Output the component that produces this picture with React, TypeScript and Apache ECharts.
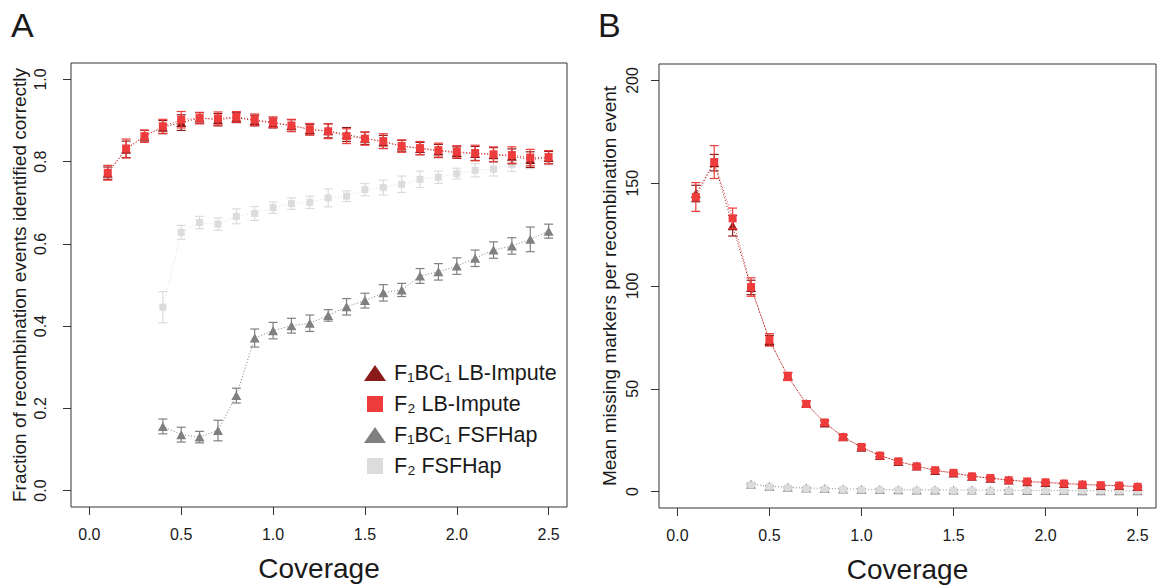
import React, { useEffect, useRef } from "react";
import * as echarts from "echarts";

// ---------- data ----------
const coverage = [0.1, 0.2, 0.3, 0.4, 0.5, 0.6, 0.7, 0.8, 0.9, 1.0, 1.1, 1.2, 1.3, 1.4, 1.5, 1.6, 1.7, 1.8, 1.9, 2.0, 2.1, 2.2, 2.3, 2.4, 2.5];
const coverageFS = [0.4, 0.5, 0.6, 0.7, 0.8, 0.9, 1.0, 1.1, 1.2, 1.3, 1.4, 1.5, 1.6, 1.7, 1.8, 1.9, 2.0, 2.1, 2.2, 2.3, 2.4, 2.5];

const xTicks = [0, 0.5, 1.0, 1.5, 2.0, 2.5];
const aYTicks = [0, 0.2, 0.4, 0.6, 0.8, 1.0];
const bYTicks = [0, 50, 100, 150, 200];

// Panel A: fraction of recombination events identified correctly
const aF1LB = [0.772, 0.830, 0.862, 0.884, 0.895, 0.906, 0.902, 0.907, 0.900, 0.894, 0.888, 0.878, 0.875, 0.866, 0.857, 0.848, 0.838, 0.832, 0.826, 0.822, 0.820, 0.817, 0.813, 0.805, 0.810];
const aF1LBErr = [0.015, 0.020, 0.014, 0.016, 0.019, 0.013, 0.015, 0.012, 0.013, 0.012, 0.014, 0.013, 0.017, 0.017, 0.015, 0.016, 0.014, 0.015, 0.016, 0.014, 0.017, 0.017, 0.018, 0.019, 0.015];
const aF2LB = [0.773, 0.832, 0.862, 0.886, 0.902, 0.906, 0.905, 0.909, 0.902, 0.896, 0.888, 0.879, 0.874, 0.862, 0.856, 0.850, 0.838, 0.833, 0.828, 0.824, 0.821, 0.818, 0.816, 0.810, 0.811];
const aF2LBErr = [0.018, 0.023, 0.015, 0.017, 0.020, 0.014, 0.016, 0.013, 0.014, 0.013, 0.015, 0.014, 0.018, 0.018, 0.016, 0.018, 0.015, 0.016, 0.017, 0.015, 0.019, 0.018, 0.020, 0.020, 0.016];
const aF1FS = [0.156, 0.136, 0.130, 0.146, 0.231, 0.371, 0.389, 0.401, 0.407, 0.426, 0.447, 0.462, 0.481, 0.488, 0.522, 0.532, 0.546, 0.565, 0.585, 0.595, 0.611, 0.631];
const aF1FSErr = [0.018, 0.018, 0.014, 0.025, 0.018, 0.022, 0.020, 0.018, 0.020, 0.014, 0.020, 0.018, 0.020, 0.016, 0.018, 0.020, 0.020, 0.020, 0.020, 0.020, 0.030, 0.017];
const aF2FS = [0.446, 0.628, 0.652, 0.648, 0.667, 0.674, 0.688, 0.698, 0.701, 0.712, 0.716, 0.732, 0.737, 0.745, 0.757, 0.762, 0.771, 0.779, 0.782, 0.793, 0.798, 0.806];
const aF2FSErr = [0.038, 0.017, 0.015, 0.015, 0.018, 0.017, 0.014, 0.014, 0.015, 0.022, 0.013, 0.015, 0.018, 0.020, 0.020, 0.015, 0.013, 0.016, 0.017, 0.017, 0.015, 0.014];

// Panel B: mean missing markers per recombination event
const bF1LB = [145.0, 160.0, 129.3, 99.3, 73.5, 56.2, 42.8, 33.4, 26.7, 21.5, 17.6, 14.6, 12.4, 10.3, 9.0, 7.5, 6.5, 5.6, 4.8, 4.4, 3.9, 3.5, 3.0, 2.9, 2.4];
const bF1LBErr = [4.0, 4.0, 5.0, 3.5, 2.5, 1.6, 1.3, 1.0, 0.9, 0.8, 0.7, 0.6, 0.6, 0.5, 0.5, 0.5, 0.4, 0.4, 0.4, 0.4, 0.4, 0.4, 0.4, 0.4, 0.4];
const bF2LB = [143.3, 160.3, 132.9, 99.5, 73.8, 56.0, 42.6, 33.6, 26.5, 21.7, 17.5, 14.7, 12.3, 10.4, 9.1, 7.4, 6.6, 5.5, 4.9, 4.5, 3.9, 3.4, 3.1, 2.9, 2.3];
const bF2LBErr = [7.0, 8.0, 5.0, 4.5, 3.0, 2.0, 1.5, 1.2, 1.0, 0.9, 0.8, 0.7, 0.6, 0.6, 0.5, 0.5, 0.5, 0.4, 0.4, 0.4, 0.4, 0.4, 0.4, 0.4, 0.4];
const bF1FS = [3.6, 2.6, 2.1, 1.7, 1.5, 1.3, 1.1, 1.0, 0.9, 0.8, 0.8, 0.7, 0.7, 0.6, 0.6, 0.5, 0.5, 0.5, 0.4, 0.4, 0.4, 0.4];
const bF1FSErr = [0.4, 0.3, 0.3, 0.3, 0.3, 0.3, 0.3, 0.3, 0.3, 0.3, 0.3, 0.3, 0.3, 0.3, 0.3, 0.3, 0.3, 0.3, 0.3, 0.3, 0.3, 0.3];
const bF2FS = [3.2, 2.3, 1.8, 1.4, 1.2, 1.0, 0.9, 0.8, 0.7, 0.6, 0.6, 0.5, 0.5, 0.4, 0.4, 0.4, 0.3, 0.3, 0.3, 0.3, 0.3, 0.3];
const bF2FSErr = [0.3, 0.3, 0.3, 0.3, 0.3, 0.3, 0.3, 0.3, 0.3, 0.3, 0.3, 0.3, 0.3, 0.3, 0.3, 0.3, 0.3, 0.3, 0.3, 0.3, 0.3, 0.3];

const names = ["F\u2081BC\u2081 LB-Impute", "F\u2082 LB-Impute", "F\u2081BC\u2081 FSFHap", "F\u2082 FSFHap"];

// ---------- styles ----------
const FONT = "'Liberation Sans', Arial, Helvetica, 'DejaVu Sans', sans-serif";
const DARKRED = "#8B1A1A";
const RED = "#EE3B3B";
const GREY = "#808080";
const LIGHT = "#DCDCDC";
const INK = "#1a1a1a";
const SQUARE = "path://M0,0L10,0L10,10L0,10Z";

function lineSeries(name: string, xs: number[], ys: number[], color: string, symbol: string, size: any, idx: number, z: number) {
  return {
    type: "line",
    name,
    xAxisIndex: idx,
    yAxisIndex: idx,
    data: xs.map((x, i) => [x, ys[i]]),
    symbol,
    symbolSize: size,
    showSymbol: true,
    itemStyle: { color },
    lineStyle: { color, width: 1, type: [1, 2] },
    z,
    silent: true,
  };
}

function errSeries(xs: number[], ys: number[], es: number[], color: string, idx: number, z: number) {
  return {
    type: "custom",
    xAxisIndex: idx,
    yAxisIndex: idx,
    data: xs.map((x, i) => [x, ys[i] - es[i], ys[i] + es[i]]),
    encode: { x: 0, y: [1, 2] },
    z,
    silent: true,
    renderItem: (params: any, api: any) => {
      const x = api.value(0);
      const lo = api.coord([x, api.value(1)]);
      const hi = api.coord([x, api.value(2)]);
      const w = 4.5;
      const st = { stroke: color, lineWidth: 1.2 };
      return {
        type: "group",
        children: [
          { type: "line", shape: { x1: hi[0], y1: hi[1], x2: lo[0], y2: lo[1] }, style: st },
          { type: "line", shape: { x1: hi[0] - w, y1: hi[1], x2: hi[0] + w, y2: hi[1] }, style: st },
          { type: "line", shape: { x1: lo[0] - w, y1: lo[1], x2: lo[0] + w, y2: lo[1] }, style: st },
        ],
      };
    },
  };
}

function xAxis(idx: number) {
  return {
    type: "value",
    gridIndex: idx,
    min: -0.1,
    max: 2.6,
    name: "Coverage",
    nameLocation: "middle",
    nameGap: 47,
    nameTextStyle: { fontFamily: FONT, fontSize: 28, color: INK },
    axisLine: { show: false, onZero: false },
    splitLine: { show: false },
    axisTick: { show: true, inside: false, length: 8, lineStyle: { color: "#333", width: 1 }, customValues: xTicks },
    axisLabel: { customValues: xTicks, margin: 19, fontFamily: FONT, fontSize: 16, color: INK, formatter: (v: number) => v.toFixed(1) },
  };
}

function yAxis(idx: number, min: number, max: number, ticks: number[], title: string, margin: number, gap: number, fmt: (v: number) => string) {
  return {
    type: "value",
    gridIndex: idx,
    min,
    max,
    name: title,
    nameLocation: "middle",
    nameRotate: 90,
    nameGap: gap,
    nameTextStyle: { fontFamily: FONT, fontSize: 19, color: INK },
    axisLine: { show: false, onZero: false },
    splitLine: { show: false },
    axisTick: { show: true, inside: false, length: 8, lineStyle: { color: "#333", width: 1 }, customValues: ticks },
    axisLabel: { customValues: ticks, rotate: 90, margin, fontFamily: FONT, fontSize: 16, color: INK, formatter: fmt },
  };
}

const option: any = {
  animation: false,
  backgroundColor: "#ffffff",
  grid: [
    { left: 71, top: 63, width: 496, height: 444, show: true, borderColor: "#333", borderWidth: 1, backgroundColor: "transparent" },
    { left: 659, top: 64, width: 497, height: 444, show: true, borderColor: "#333", borderWidth: 1, backgroundColor: "transparent" },
  ],
  xAxis: [xAxis(0), xAxis(1)],
  yAxis: [
    yAxis(0, -0.04, 1.04, aYTicks, "Fraction of recombination events identified correctly", 23, 42, (v: number) => v.toFixed(1)),
    yAxis(1, -8, 208, bYTicks, "Mean missing markers per recombination event", 19, 40, (v: number) => String(v)),
  ],
  legend: {
    show: true,
    orient: "vertical",
    left: 364,
    top: 361,
    padding: 0,
    itemGap: 7,
    itemWidth: 22,
    itemHeight: 16,
    selectedMode: false,
    data: [
      { name: names[0], icon: "triangle" },
      { name: names[1], icon: SQUARE },
      { name: names[2], icon: "triangle" },
      { name: names[3], icon: SQUARE },
    ],
    textStyle: { fontFamily: FONT, fontSize: 21.5, lineHeight: 24, color: INK, padding: [0, 0, 0, 3] },
  },
  graphic: [
    { type: "text", x: 11, y: 25, style: { text: "A", fontFamily: FONT, fontSize: 34, fill: INK, align: "left", verticalAlign: "middle" } },
    { type: "text", x: 598, y: 25, style: { text: "B", fontFamily: FONT, fontSize: 34, fill: INK, align: "left", verticalAlign: "middle" } },
  ],
  series: [
    // Panel A
    errSeries(coverageFS, aF2FS, aF2FSErr, LIGHT, 0, 2),
    lineSeries(names[3], coverageFS, aF2FS, LIGHT, "rect", 7, 0, 2),
    errSeries(coverageFS, aF1FS, aF1FSErr, GREY, 0, 3),
    lineSeries(names[2], coverageFS, aF1FS, GREY, "triangle", [10, 9], 0, 3),
    errSeries(coverage, aF1LB, aF1LBErr, DARKRED, 0, 4),
    lineSeries(names[0], coverage, aF1LB, DARKRED, "triangle", [10, 9], 0, 4),
    errSeries(coverage, aF2LB, aF2LBErr, RED, 0, 5),
    lineSeries(names[1], coverage, aF2LB, RED, "rect", 8, 0, 5),
    // Panel B
    errSeries(coverageFS, bF1FS, bF1FSErr, GREY, 1, 2),
    lineSeries(names[2], coverageFS, bF1FS, GREY, "triangle", [10, 9], 1, 2),
    errSeries(coverageFS, bF2FS, bF2FSErr, LIGHT, 1, 3),
    lineSeries(names[3], coverageFS, bF2FS, LIGHT, "rect", 7, 1, 3),
    errSeries(coverage, bF1LB, bF1LBErr, DARKRED, 1, 4),
    lineSeries(names[0], coverage, bF1LB, DARKRED, "triangle", [10, 9], 1, 4),
    errSeries(coverage, bF2LB, bF2LBErr, RED, 1, 5),
    lineSeries(names[1], coverage, bF2LB, RED, "rect", 8, 1, 5),
  ],
};

export default function App() {
  const ref = useRef<HTMLDivElement>(null);
  useEffect(() => {
    const chart = echarts.init(ref.current!, null, { renderer: "svg" });
    chart.setOption(option);
    return () => chart.dispose();
  }, []);
  return <div ref={ref} style={{ position: "fixed", left: 0, top: 0, width: 1158, height: 588, background: "#fff" }} />;
}
